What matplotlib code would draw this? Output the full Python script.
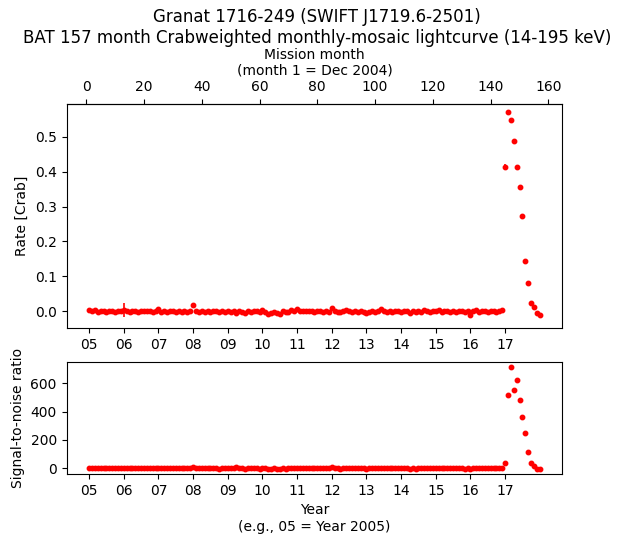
import numpy as np
import matplotlib
matplotlib.use("Agg")
import matplotlib.pyplot as plt

# mission months 1..157 (month 1 = Dec 2004)
month = np.arange(1, 158)

# rate [Crab], one row per year of 12 months, then the outburst
rate = [
    0.003, 0.001, 0.004, -0.001, 0.002, 0.000, -0.002, 0.001, 0.002, -0.001, 0.000, 0.001,
    0.003, 0.000, -0.002, 0.002, 0.001, -0.001, 0.000, 0.001, 0.002, 0.002, -0.001, 0.001,
    0.005, -0.002, 0.001, -0.001, 0.002, 0.000, -0.002, 0.001, -0.001, 0.002, -0.001, 0.000,
    0.017, 0.001, -0.002, 0.000, -0.001, 0.002, -0.002, 0.001, 0.000, -0.003, 0.001, -0.001,
    0.002, -0.001, 0.000, -0.004, 0.001, -0.002, -0.006, 0.002, -0.001, 0.001, 0.000, -0.003,
    0.003, -0.001, -0.007, -0.006, -0.002, -0.004, -0.008, 0.000, -0.003, -0.001, 0.004, 0.002,
    0.006, 0.002, 0.001, 0.000, 0.002, 0.001, -0.001, 0.000, 0.001, -0.002, 0.000, -0.001,
    0.008, 0.000, -0.001, -0.003, 0.001, 0.004, 0.002, -0.002, 0.000, -0.001, 0.002, -0.001,
    -0.006, -0.002, 0.001, -0.001, 0.000, 0.005, 0.001, -0.001, 0.002, -0.002, 0.000, 0.002,
    -0.001, 0.001, 0.000, -0.005, 0.002, -0.003, 0.001, -0.001, 0.003, 0.000, -0.002, 0.001,
    0.000, 0.004, -0.001, 0.001, 0.000, -0.002, 0.001, -0.001, 0.002, 0.000, -0.003, 0.001,
    -0.012, 0.001, 0.003, -0.001, 0.000, 0.002, -0.002, 0.001, 0.000, -0.001, 0.002, 0.004,
    0.414, 0.571, 0.547, 0.489, 0.414, 0.356, 0.272, 0.144, 0.080, 0.025, 0.011, -0.004, -0.010,
]
rate_err = [0.003] * 157
rate_err[12] = 0.02
rate_err[144] = 0.008

snr = [
    2, 1, 3, -1, 2, 0, -2, 1, 2, -1, 0, 1,
    3, 0, -2, 2, 1, -1, 0, 1, 2, 2, -1, 1,
    4, -2, 1, -1, 2, 0, -2, 1, -1, 2, -1, 0,
    6, 1, -2, 0, -1, 2, -2, 1, 0, -3, 1, -1,
    2, -1, 0, 10, 1, -2, -4, 2, -1, 1, 0, -3,
    2, -1, -5, -4, -2, -3, -5, 0, -3, -1, 3, 2,
    4, 2, 1, 0, 2, 1, -1, 0, 1, -2, 0, -1,
    5, 0, -1, -3, 1, 3, 2, -2, 0, -1, 2, -1,
    -4, -2, 1, -1, 0, 4, 1, -1, 2, -2, 0, 2,
    -1, 1, 0, -4, 2, -3, 1, -1, 3, 0, -2, 1,
    0, 3, -1, 1, 0, -2, 1, -1, 2, 0, -3, 1,
    -6, 1, 3, -1, 0, 2, -2, 1, 0, -1, 2, 3,
    36, 521, 714, 552, 621, 481, 364, 250, 114, 38, 16, -5, -5,
]

year_ticks = list(range(2005, 2018))
year_labels = ["%02d" % (y - 2000) for y in year_ticks]

# month -> decimal year
t = 2004 + 11.0 / 12 + month / 12.0

def yr2mon(y):
    return (y - 2004 - 11.0 / 12) * 12.0

def mon2yr(m):
    return 2004 + 11.0 / 12 + m / 12.0

fig = plt.figure(figsize=(6.22, 5.43), dpi=100)
ax1 = fig.add_axes([0.107, 0.396, 0.797, 0.4125])
ax2 = fig.add_axes([0.107, 0.127, 0.797, 0.206])

ax1.errorbar(t, rate, yerr=rate_err, fmt="o", color="red", ms=3.2, elinewidth=1.2, capsize=0)
ax1.set_ylabel("Rate [Crab]")
ax1.set_xticks(year_ticks)
ax1.set_xticklabels(year_labels)
ax1.set_ylim(-0.048, 0.594)

top = ax1.secondary_xaxis("top", functions=(yr2mon, mon2yr))
top.set_xlabel("Mission month\n(month 1 = Dec 2004)")

ax2.errorbar(t, snr, fmt="o", color="red", ms=3.2)
ax2.set_ylabel("Signal-to-noise ratio")
ax2.set_xticks(year_ticks)
ax2.set_xticklabels(year_labels)
ax2.set_xlim(ax1.get_xlim())
ax2.set_xlabel("Year\n(e.g., 05 = Year 2005)")

fig.suptitle("Granat 1716-249 (SWIFT J1719.6-2501)\nBAT 157 month Crabweighted monthly-mosaic lightcurve (14-195 keV)",
             fontsize=12, x=0.51, y=0.985)

fig.savefig("out.png")
